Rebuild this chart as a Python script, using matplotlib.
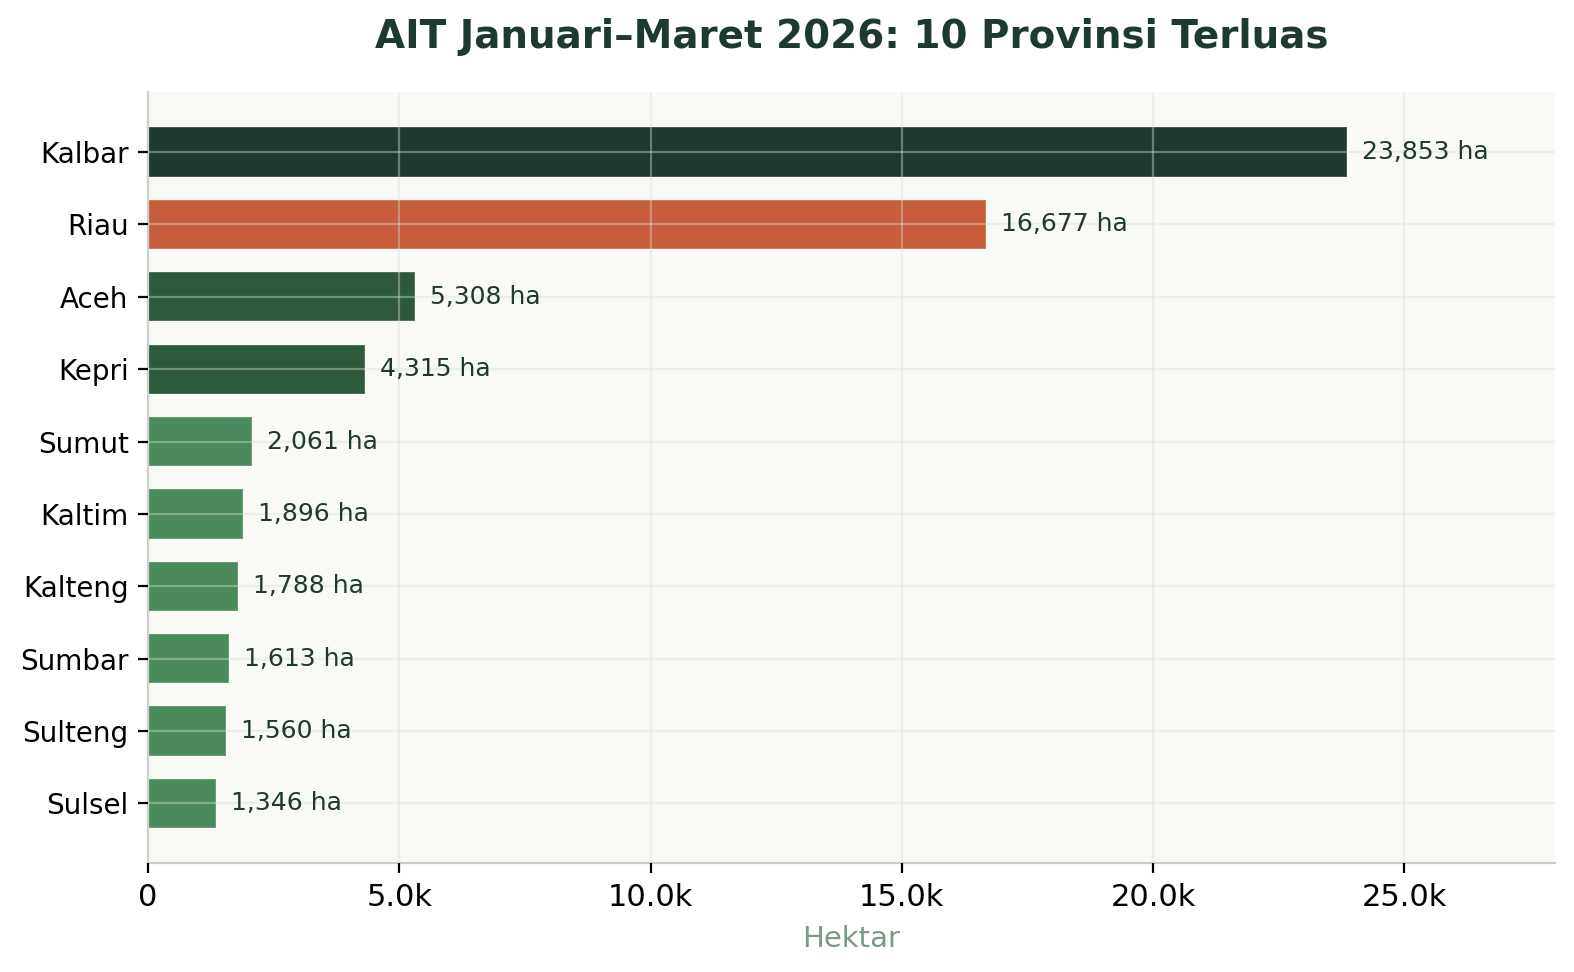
import matplotlib.pyplot as plt
from matplotlib.ticker import FuncFormatter

provinsi = ["Kalbar", "Riau", "Aceh", "Kepri", "Sumut", "Kaltim", "Kalteng", "Sumbar", "Sulteng", "Sulsel"]
luas = [23853, 16677, 5308, 4315, 2061, 1896, 1788, 1613, 1560, 1346]
warna = ["#1E3A2F", "#C65D3B", "#2D5A3D", "#2D5A3D", "#4A8A5C",
         "#4A8A5C", "#4A8A5C", "#4A8A5C", "#4A8A5C", "#4A8A5C"]


def main():
    fig, ax = plt.subplots(figsize=(7.87, 4.86), dpi=200)
    fig.patch.set_facecolor("white")
    ax.set_facecolor("#F9F9F6")

    y = list(range(len(provinsi)))
    ax.barh(y, luas, height=0.68, color=warna, edgecolor=(1, 1, 1, 0.2), linewidth=0.6)
    ax.invert_yaxis()
    ax.set_yticks(y)
    ax.set_yticklabels(provinsi, fontsize=10)

    for i, v in enumerate(luas):
        ax.text(v + 300, i, f"{v:,} ha", va="center", ha="left", fontsize=9, color="#1E3A2F")

    ax.set_xlim(0, 28000)
    ax.set_xticks([0, 5000, 10000, 15000, 20000, 25000])
    ax.xaxis.set_major_formatter(FuncFormatter(lambda x, p: "0" if x == 0 else f"{x/1000:.1f}k"))
    ax.tick_params(axis="x", labelsize=11)
    ax.set_xlabel("Hektar", fontsize=10.5, color="#7A9A85", labelpad=5)

    ax.grid(True, color="#DDDDDA", linewidth=0.8, alpha=0.4)
    ax.set_axisbelow(False)
    for s in ["top", "right"]:
        ax.spines[s].set_visible(False)
    for s in ["left", "bottom"]:
        ax.spines[s].set_color("#CCCCCC")

    ax.set_title("AIT Januari\u2013Maret 2026: 10 Provinsi Terluas", fontsize=14,
                 fontweight="bold", color="#1E3A2F", pad=16)
    fig.subplots_adjust(left=0.094, right=0.988, top=0.905, bottom=0.112)
    fig.savefig("out.png")


if __name__ == "__main__":
    main()
